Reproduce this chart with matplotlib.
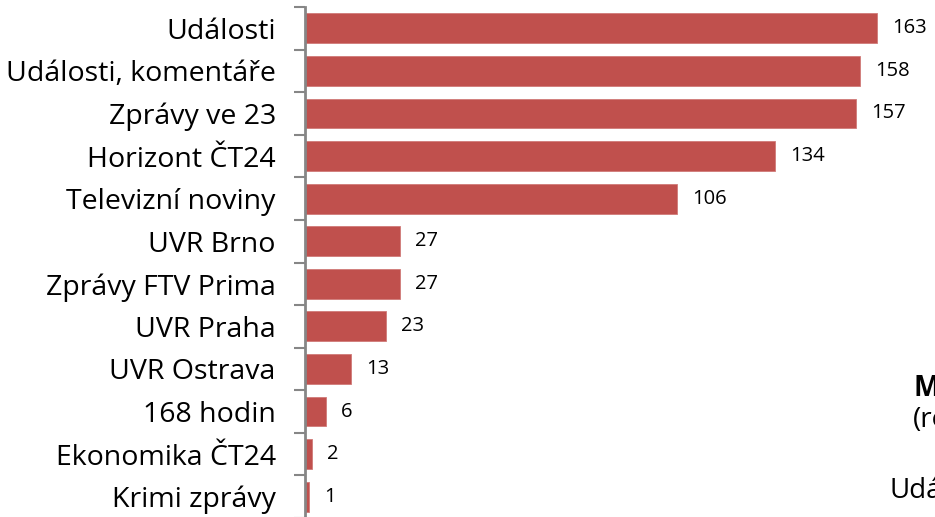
import numpy as np
import matplotlib.pyplot as plt

plt.rcParams['font.family'] = ['Open Sans', 'DejaVu Sans']

categories = ["Události", "Události, komentáře", "Zprávy ve 23", "Horizont ČT24",
              "Televizní noviny", "UVR Brno", "Zprávy FTV Prima", "UVR Praha",
              "UVR Ostrava", "168 hodin", "Ekonomika ČT24", "Krimi zprávy"]
values = [163, 158, 157, 134, 106, 27, 27, 23, 13, 6, 2, 1]

bar_color = "#C0504D"
axis_color = "#868686"

fig = plt.figure(figsize=(9.35, 5.17), dpi=100)
ax = fig.add_axes([305 / 935, -0.002, 630 / 935, 1 - 7 / 517 + 0.002])

y = np.arange(len(categories))
ax.barh(y, values, height=0.7, color=bar_color, edgecolor="#D07A78", linewidth=0.6)
ax.set_ylim(len(categories) - 0.5, -0.5)
ax.set_xlim(0, 179.5)

for yi, v in zip(y, values):
    ax.annotate(str(v), (v, yi), xytext=(11, 0), textcoords="offset points",
                va="center", ha="left", fontsize=14.5, color="black")

ax.set_yticks(y)
ax.set_yticklabels(categories, fontsize=20.5)
ax.set_yticks(np.arange(-0.5, len(categories), 1), minor=True)
ax.tick_params(axis="y", which="major", length=0, pad=21)
ax.tick_params(axis="y", which="minor", length=8, width=1.5, color=axis_color)
ax.set_xticks([])

for s in ["top", "right", "bottom"]:
    ax.spines[s].set_visible(False)
ax.spines["left"].set_color(axis_color)
ax.spines["left"].set_linewidth(2)

# cropped text of the neighbouring element
fig.text(913 / 935, 1 - 396 / 517, "Mediální", fontsize=20, fontweight="bold", ha="left", va="baseline")
fig.text(913 / 935, 1 - 427 / 517, "(relevantní", fontsize=20, ha="left", va="baseline")
fig.text(889 / 935, 1 - 498 / 517, "Události", fontsize=20, ha="left", va="baseline")

fig.savefig("out.png", dpi=100)
plt.close()
